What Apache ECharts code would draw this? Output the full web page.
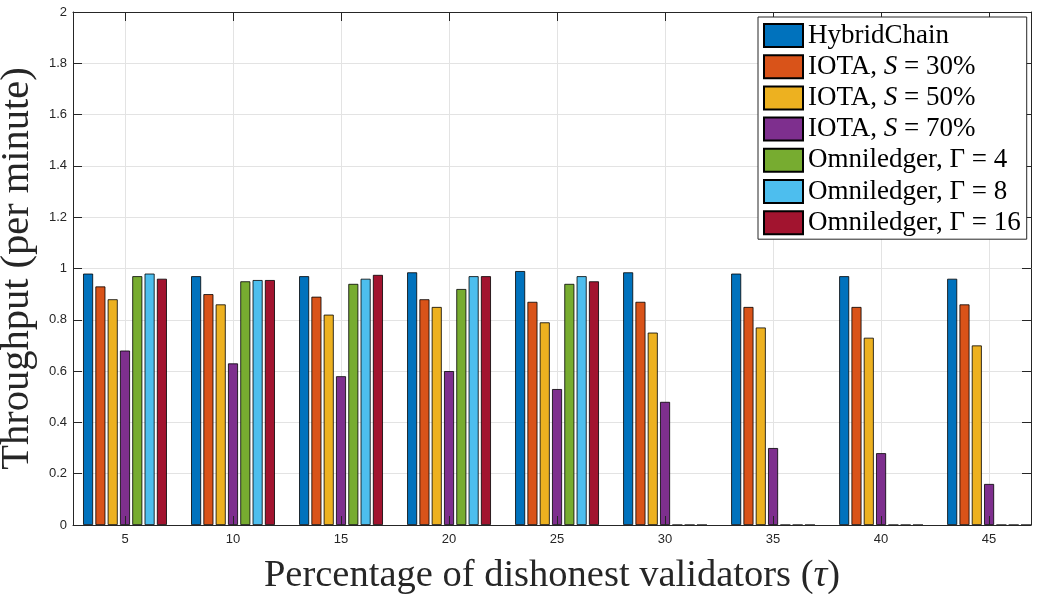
<!DOCTYPE html>
<html>
<head>
<meta charset="utf-8">
<script src="https://cdn.jsdelivr.net/npm/echarts@6/dist/echarts.min.js"></script>
<style>
  html, body { margin: 0; padding: 0; background: #fff; }
  #chart { width: 1039px; height: 594px; }
</style>
</head>
<body>
<div id="chart"></div>
<script>
// Percentage of dishonest validators (tau)
const categories = [5, 10, 15, 20, 25, 30, 35, 40, 45];
const yTicks = [0, 0.2, 0.4, 0.6, 0.8, 1, 1.2, 1.4, 1.6, 1.8, 2];

// Throughput (per minute) for each scheme
const hybridChain = [0.98, 0.97, 0.97, 0.985, 0.99, 0.985, 0.98, 0.97, 0.96];
const iota30      = [0.93, 0.90, 0.89, 0.88, 0.87, 0.87, 0.85, 0.85, 0.86];
const iota50      = [0.88, 0.86, 0.82, 0.85, 0.79, 0.75, 0.77, 0.73, 0.70];
const iota70      = [0.68, 0.63, 0.58, 0.60, 0.53, 0.48, 0.30, 0.28, 0.16];
const omni4       = [0.97, 0.95, 0.94, 0.92, 0.94, 0, 0, 0, 0];
const omni8       = [0.98, 0.955, 0.96, 0.97, 0.97, 0, 0, 0, 0];
const omni16      = [0.96, 0.955, 0.975, 0.97, 0.95, 0, 0, 0, 0];

const seriesDefs = [
  { name: 'HybridChain',  color: '#0072BD', values: hybridChain },
  { name: 'IOTA30',       color: '#D95319', values: iota30 },
  { name: 'IOTA50',       color: '#EDB120', values: iota50 },
  { name: 'IOTA70',       color: '#7E2F8E', values: iota70 },
  { name: 'Omni4',        color: '#77AC30', values: omni4 },
  { name: 'Omni8',        color: '#4DBEEE', values: omni8 },
  { name: 'Omni16',       color: '#A2142F', values: omni16 }
];

// Legend labels with italic math symbols
const legendText = {
  HybridChain: '{n|HybridChain}',
  IOTA30: '{n|IOTA, }{i|S}{n| = 30%}',
  IOTA50: '{n|IOTA, }{i|S}{n| = 50%}',
  IOTA70: '{n|IOTA, }{i|S}{n| = 70%}',
  Omni4:  '{n|Omniledger, Γ = 4}',
  Omni8:  '{n|Omniledger, Γ = 8}',
  Omni16: '{n|Omniledger, Γ = 16}'
};

const AXIS = '#262626';
const GRIDC = '#e3e3e3';
const xMin = 2.593, xMax = 46.94;

const chart = echarts.init(document.getElementById('chart'), null, { renderer: 'canvas' });

chart.setOption({
  animation: false,
  backgroundColor: '#fff',
  grid: { left: 73, right: 8, top: 12, bottom: 69, containLabel: false, outerBoundsMode: 'none' },
  legend: {
    orient: 'vertical',
    left: 758,
    top: 17,
    padding: [5, 6, 3, 5],
    icon: 'rect',
    itemWidth: 39,
    itemHeight: 23,
    itemGap: 4.2,
    backgroundColor: '#fff',
    borderColor: AXIS,
    borderWidth: 1,
    borderRadius: 0,
    z: 10,
    data: seriesDefs.map(s => s.name),
    formatter: name => legendText[name],
    textStyle: {
      rich: {
        n: { fontFamily: 'Liberation Serif', fontSize: 27, color: '#000' },
        i: { fontFamily: 'Liberation Serif', fontStyle: 'italic', fontSize: 27, color: '#000' }
      }
    }
  },
  xAxis: [
    {
      type: 'value',
      position: 'bottom',
      min: xMin,
      max: xMax,
      z: 3,
      axisLine: { show: true, onZero: false, lineStyle: { color: AXIS, width: 1 } },
      axisTick: { show: true, inside: true, length: 9, customValues: categories, lineStyle: { color: AXIS } },
      axisLabel: { show: true, customValues: categories, margin: 8, color: AXIS, fontFamily: 'Liberation Sans', fontSize: 13 },
      splitLine: { show: false },
      name: '{n|Percentage of dishonest validators (}{i|τ}{n|)}',
      nameLocation: 'middle',
      nameGap: 31,
      nameTextStyle: {
        fontFamily: 'Liberation Serif', fontSize: 38.5, color: '#262626',
        rich: {
          n: { fontFamily: 'Liberation Serif', fontSize: 38.5, color: '#262626' },
          i: { fontFamily: 'Liberation Serif', fontStyle: 'italic', fontSize: 38.5, color: '#262626' }
        }
      }
    },
    {
      type: 'value',
      position: 'top',
      min: xMin,
      max: xMax,
      z: 0,
      axisLine: { show: true, onZero: false, lineStyle: { color: AXIS, width: 1 } },
      axisTick: { show: true, inside: true, length: 9, customValues: categories, lineStyle: { color: AXIS } },
      axisLabel: { show: false, customValues: categories },
      splitLine: { show: true, lineStyle: { color: GRIDC, width: 1 } }
    }
  ],
  yAxis: [
    {
      type: 'value',
      position: 'left',
      min: 0,
      max: 2,
      interval: 0.2,
      axisLine: { show: true, lineStyle: { color: AXIS, width: 1 } },
      axisTick: { show: true, inside: true, length: 9, lineStyle: { color: AXIS } },
      axisLabel: {
        color: AXIS, fontFamily: 'Liberation Sans', fontSize: 13, margin: 6,
        formatter: v => String(+v.toFixed(1))
      },
      splitLine: { show: true, lineStyle: { color: GRIDC, width: 1 } },
      name: 'Throughput (per minute)',
      nameLocation: 'middle',
      nameGap: 27,
      nameTextStyle: { fontFamily: 'Liberation Serif', fontSize: 40.5, color: '#262626' }
    },
    {
      type: 'value',
      position: 'right',
      min: 0,
      max: 2,
      interval: 0.2,
      axisLine: { show: true, lineStyle: { color: AXIS, width: 1 } },
      axisTick: { show: true, inside: true, length: 9, lineStyle: { color: AXIS } },
      axisLabel: { show: false },
      splitLine: { show: false }
    }
  ],
  series: seriesDefs.map(s => ({
    name: s.name,
    type: 'bar',
    xAxisIndex: 0,
    yAxisIndex: 0,
    barWidth: 10,
    barGap: '23%',
    itemStyle: { color: s.color, borderColor: '#000', borderWidth: 0.8 },
    data: categories.map((c, i) => [c, s.values[i]])
  }))
});
</script>
</body>
</html>
